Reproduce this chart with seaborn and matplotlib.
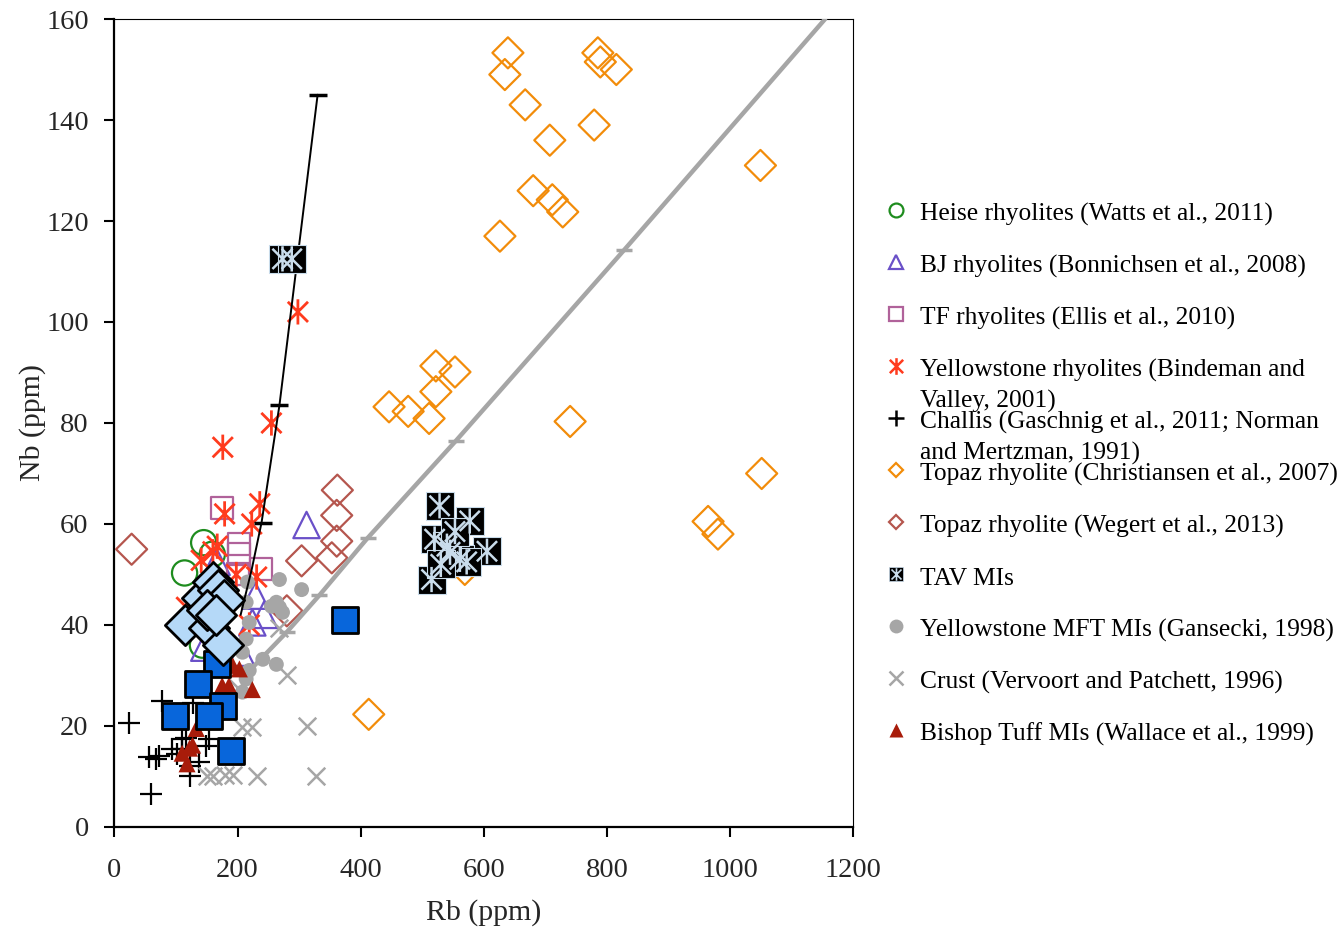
import matplotlib
matplotlib.use("Agg")
import matplotlib.pyplot as plt
import seaborn as sns
import pandas as pd
import numpy as np
from matplotlib.path import Path
from matplotlib.lines import Line2D

# ---------------- data (Rb ppm, Nb ppm) ----------------
heise_rb = [145, 114, 159, 143, 170]
heise_nb = [56.3, 50.3, 54, 36, 46]

bj_rb = [312, 229, 243, 224, 146, 206, 166]
bj_nb = [59.8, 45.8, 42, 40.5, 35.5, 34.5, 52.5]

tf_rb = [174, 203, 203, 238, 200]
tf_nb = [63.2, 56, 54, 51, 50]

ys_rb = [298, 255, 176, 236, 179, 223, 167, 141, 160, 231, 198, 219, 117]
ys_nb = [102, 80, 75.2, 64, 62, 60, 55.6, 52.8, 54.5, 49.5, 50, 40, 43.5]

challis_rb = [24, 60, 78, 57, 68, 73, 94, 109, 122, 138, 149, 154, 117, 127, 110, 122, 101]
challis_nb = [20.5, 6.5, 25, 13.8, 13.4, 14, 15.4, 17.5, 10, 12.8, 16, 17.5, 17.7, 24.5, 15.4, 12, 14.4]

topazc_rb = [639, 634, 667, 707, 680, 711, 728, 626, 785, 789, 815, 779, 1049,
             522, 553, 522, 446, 477, 511, 740, 1051, 964, 980, 413, 569]
topazc_nb = [153.3, 149, 143, 136, 126, 124.2, 121.8, 117, 153.3, 151.5, 150, 139, 131,
             91.3, 90.1, 86.2, 83.2, 82.3, 80.9, 80.3, 70, 60.5, 58, 22.3, 51]

topazw_rb = [28, 362, 361, 361, 353, 304, 280]
topazw_nb = [55, 66.7, 61.7, 56.6, 53.3, 52.7, 42.8]

tav_rb = [273, 288, 528, 577, 520, 605, 515, 545, 561, 572, 540, 553, 530]
tav_nb = [112.5, 112.5, 63.6, 60.6, 57, 54.6, 49, 54.4, 53, 52.5, 55.6, 58.5, 52]

mft_rb = [216, 268, 304, 214, 263, 268, 273, 219, 214, 208, 241, 263, 219, 208, 214, 255]
mft_nb = [48.5, 49, 47, 44.5, 44.5, 43.5, 42.5, 40.5, 37.2, 34.6, 33.2, 32.2, 31, 26.7, 29.3, 43.7]

crust_rb = [280, 312, 328, 231, 192, 179, 160, 150, 208, 224, 268, 200]
crust_nb = [30, 20, 10, 10, 10.2, 10.2, 10.1, 10, 19.8, 19.8, 39.5, 27.5]

bishop_rb = [203, 192, 224, 175, 186, 133, 127, 110, 122, 118]
bishop_nb = [31.3, 32, 27.2, 28, 28, 19.5, 16.2, 14.6, 15.6, 12.5]

bluesq_rb = [374, 167, 135, 176, 98, 154, 190]
bluesq_nb = [41, 32.3, 28.4, 24, 22, 22, 15.1]

lbdiam_rb = [114, 143, 160, 168, 178, 154, 176, 150, 165]
lbdiam_nb = [40, 45.4, 48.5, 47, 45, 39.5, 36, 43, 42]

# model curves
black_rb = [205, 223, 239, 268, 330]
black_nb = [42, 51, 60.3, 83.5, 145]
black_tick_rb = [241, 268, 330]
black_tick_nb = [60.2, 83.5, 145]

gray_rb = [208, 280, 333, 411, 554, 828, 1154]
gray_nb = [29.5, 38.6, 45.9, 57.2, 76.4, 114.3, 160]
gray_tick_rb = [280, 333, 411, 554, 828]
gray_tick_nb = [38.6, 45.9, 57.2, 76.4, 114.3]

legend_labels = [
    ["Heise rhyolites (Watts et al., 2011)"],
    ["BJ rhyolites (Bonnichsen et al., 2008)"],
    ["TF rhyolites (Ellis et al., 2010)"],
    ["Yellowstone rhyolites (Bindeman and", "Valley, 2001)"],
    ["Challis (Gaschnig et al., 2011; Norman", "and Mertzman, 1991)"],
    ["Topaz rhyolite (Christiansen et al., 2007)"],
    ["Topaz rhyolite (Wegert et al., 2013)"],
    ["TAV MIs"],
    ["Yellowstone MFT MIs (Gansecki, 1998)"],
    ["Crust (Vervoort and Patchett, 1996)"],
    ["Bishop Tuff MIs (Wallace et al., 1999)"],
]

x_ticks = [0, 200, 400, 600, 800, 1000, 1200]
y_ticks = [0, 20, 40, 60, 80, 100, 120, 140, 160]

# ---------------- style ----------------
sns.set_theme(style="white")
plt.rcParams['font.family'] = ['Liberation Serif', 'DejaVu Serif']
plt.rcParams['mathtext.fontset'] = 'stix'

C_GREEN = '#1E8C1E'
C_PURPLE = '#6A50C8'
C_MAUVE = '#B0629A'
C_RED = '#FF3B1E'
C_ORANGE = '#F28C0A'
C_ROSE = '#B5564E'
C_GRAY = '#A6A6A6'
C_DRED = '#A81C0A'
C_BLUE = '#0866DB'
C_LBLUE = '#B5D9F8'
C_TAVX = '#C9DCEB'

ast_path = Path([(0, -1), (0, 1), (-0.8, -0.8), (0.8, 0.8), (-0.8, 0.8), (0.8, -0.8)],
                [Path.MOVETO, Path.LINETO, Path.MOVETO, Path.LINETO, Path.MOVETO, Path.LINETO])

fig = plt.figure(figsize=(13.44, 9.32), dpi=100)
ax = fig.add_axes([0.0851, 0.1127, 0.635 - 0.0851, 0.9796 - 0.1127])

def sc(rb, nb, **kw):
    sns.scatterplot(x=rb, y=nb, ax=ax, legend=False, **kw)

sc(topazw_rb, topazw_nb, marker='D', s=250, facecolor='none', edgecolor=C_ROSE, linewidth=1.6, zorder=3)
sc(topazc_rb, topazc_nb, marker='D', s=250, facecolor='none', edgecolor=C_ORANGE, linewidth=1.6, zorder=3)
sc(heise_rb, heise_nb, marker='o', s=330, facecolor='none', edgecolor=C_GREEN, linewidth=1.6, zorder=3)
sc(bj_rb, bj_nb, marker='^', s=360, facecolor='none', edgecolor=C_PURPLE, linewidth=1.6, zorder=3)
sc(tf_rb, tf_nb, marker='s', s=250, facecolor='none', edgecolor=C_MAUVE, linewidth=1.6, zorder=3)
sc(ys_rb, ys_nb, marker=ast_path, s=330, facecolor='none', edgecolor=C_RED, linewidth=2.0, zorder=4)
sc(challis_rb, challis_nb, marker='+', s=250, color='black', linewidth=1.6, zorder=4)
sc(crust_rb, crust_nb, marker='x', s=160, color=C_GRAY, linewidth=1.8, zorder=4)
sc(mft_rb, mft_nb, marker='o', s=115, color=C_GRAY, edgecolor='none', zorder=4)

# model curves
sns.lineplot(x=gray_rb, y=gray_nb, ax=ax, sort=False, estimator=None, color=C_GRAY, linewidth=3.2, zorder=5)
sc(gray_tick_rb, gray_tick_nb, marker='_', s=120, color=C_GRAY, linewidth=2.5, zorder=5)
sns.lineplot(x=black_rb, y=black_nb, ax=ax, sort=False, estimator=None, color='black', linewidth=1.4, zorder=5)
sc(black_tick_rb, black_tick_nb, marker='_', s=180, color='black', linewidth=2.5, zorder=5)

sc(bishop_rb, bishop_nb, marker='^', s=150, color=C_DRED, edgecolor='none', zorder=6)
sc(tav_rb, tav_nb, marker='s', s=380, color='black', edgecolor=C_TAVX, linewidth=0.8, zorder=6)
sc(tav_rb, tav_nb, marker=ast_path, s=330, facecolor='none', edgecolor=C_TAVX, linewidth=1.8, zorder=6)
sc(bluesq_rb, bluesq_nb, marker='s', s=340, color=C_BLUE, edgecolor='black', linewidth=2.0, zorder=7)
sc(lbdiam_rb, lbdiam_nb, marker='D', s=420, color=C_LBLUE, edgecolor='black', linewidth=2.0, zorder=8)

ax.set_xlim(0, 1200)
ax.set_ylim(0, 160)
ax.set_xticks(x_ticks)
ax.set_yticks(y_ticks)
ax.tick_params(axis='both', which='major', direction='out', length=7, width=1.5,
               color='black', labelsize=20.5, bottom=True, left=True)
ax.tick_params(axis='x', pad=15)
ax.tick_params(axis='y', pad=11.5)
ax.set_xlabel("Rb (ppm)", fontsize=21.5, labelpad=12)
ax.set_ylabel("Nb (ppm)", fontsize=21.5, labelpad=0)
for side in ['left', 'bottom']:
    ax.spines[side].set_color('black')
    ax.spines[side].set_linewidth(1.6)
for side in ['top', 'right']:
    ax.spines[side].set_color('black')
    ax.spines[side].set_linewidth(0.8)
ax.grid(False)

# ---------------- legend (manual, outside axes) ----------------
W, H = 1344, 932
handles = [
    dict(marker='o', ms=10, mfc='none', mec=C_GREEN, mew=1.6),
    dict(marker='^', ms=10.5, mfc='none', mec=C_PURPLE, mew=1.6),
    dict(marker='s', ms=9.5, mfc='none', mec=C_MAUVE, mew=1.6),
    dict(marker=ast_path, ms=12, mfc='none', mec=C_RED, mew=1.8),
    dict(marker='+', ms=11, color='black', mew=1.8),
    dict(marker='D', ms=7.2, mfc='none', mec=C_ORANGE, mew=1.6),
    dict(marker='D', ms=7.2, mfc='none', mec=C_ROSE, mew=1.6),
    dict(marker='s', ms=10, mfc='black', mec=C_TAVX, mew=0.5),
    dict(marker='o', ms=10, mfc=C_GRAY, mec='none'),
    dict(marker='x', ms=10, color=C_GRAY, mew=1.8),
    dict(marker='^', ms=10, mfc=C_DRED, mec='none'),
]
y0 = 213
dy = 52.0
for i, (lab, h) in enumerate(zip(legend_labels, handles)):
    yc = y0 + i * dy
    fig.add_artist(Line2D([896 / W], [1 - (yc - 3) / H], transform=fig.transFigure,
                          linestyle='none', **h))
    if i == 7:
        fig.add_artist(Line2D([896 / W], [1 - (yc - 3) / H], transform=fig.transFigure,
                              linestyle='none', marker=ast_path, ms=9, mfc='none', mec=C_TAVX, mew=1.2))
    for j, line in enumerate(lab):
        fig.text(920 / W, 1 - (yc + 8 + j * 31) / H, line, fontsize=18.4,
                 ha='left', va='baseline', color='black')

fig.savefig("out.png", dpi=100)
